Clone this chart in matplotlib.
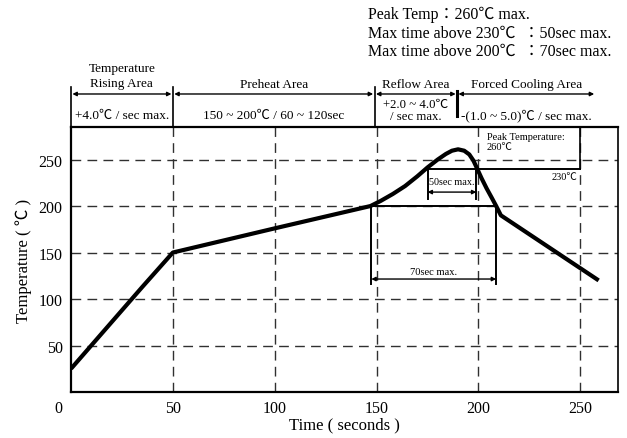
import numpy as np
import matplotlib
matplotlib.use("Agg")
from matplotlib import pyplot as plt

plt.rcParams['font.family'] = ['Liberation Serif', 'Noto Sans CJK JP', 'DejaVu Serif']

# reflow profile (time s, temp C)
profile_t = [0, 35, 50, 100, 147, 152, 158, 164, 170, 175, 180, 184, 187, 190, 193, 195.5, 197.5,
             199.2, 201.5, 204, 206.5, 208.7, 211, 259]
profile_T = [25, 113, 150, 176, 200, 205.5, 213, 221.5, 232, 241.5, 250, 256, 259.5, 261, 259.5, 255.5, 249,
             241, 230, 219, 209, 200, 190, 120]

x_ticks = [50, 100, 150, 200, 250]
y_ticks = [50, 100, 150, 200, 250]

# header zones: edges, titles, rate text
zone_edges = [0, 50, 149, 189.5, 257.5]
zone_titles = ['Temperature\nRising Area', 'Preheat Area', 'Reflow Area', 'Forced Cooling Area']
zone_rates = ['+4.0℃ / sec max.', '150 ~ 200℃ / 60 ~ 120sec', '+2.0 ~ 4.0℃\n/ sec max.', '-(1.0 ~ 5.0)℃ / sec max.']

spec_lines = ['Peak Temp：260℃ max.',
              'Max time above 230℃  ：50sec max.',
              'Max time above 200℃  ：70sec max.']

# annotation levels (drawn position) and time windows
line_230 = 240
t230 = [175, 199]
t200 = [147.4, 208.7]

fig = plt.figure(figsize=(6.27, 4.39), dpi=100)
ax = fig.add_axes([71/627, 46/439, 547/627, 265/439])
ax.set_xlim(0, 268.5)
ax.set_ylim(0, 285)

dash = (7, 4.5)
for xv in x_ticks:
    ax.axvline(xv, color='#303030', lw=1.0, dashes=dash, zorder=1)
for yv in y_ticks:
    ax.axhline(yv, color='#303030', lw=1.0, dashes=dash, zorder=1)

ax.plot(profile_t, profile_T, color='black', lw=3, solid_joinstyle='round', solid_capstyle='butt', zorder=5)

ax.set_xticks(x_ticks)
ax.set_yticks(y_ticks)
ax.tick_params(length=0, labelsize=11.5, pad=6)
for s in ax.spines.values():
    s.set_linewidth(1.6)
ax.spines['right'].set_linewidth(1.2)
ax.text(-6, -17, '0', fontsize=11.5, ha='center', va='center')
ax.set_xlabel('Time ( seconds )', fontsize=12, labelpad=0)
ax.set_ylabel('Temperature ( ℃ )', fontsize=12, labelpad=5)

# 200 / 230 annotations
ax.plot([t200[0], t200[1]], [200, 200], color='black', lw=1.4, zorder=4)
for xv in t200:
    ax.plot([xv, xv], [200, 116], color='black', lw=1.4, zorder=4)
ax.annotate('', xy=(t200[0], 121.5), xytext=(t200[1], 121.5),
            arrowprops=dict(arrowstyle='<|-|>', color='black', lw=1.0, mutation_scale=6, shrinkA=0, shrinkB=0))
ax.text(np.mean(t200), 129.5, '70sec max.', fontsize=7.6, ha='center', va='center')

ax.plot([t230[0], 250], [line_230, line_230], color='black', lw=1.4, zorder=4)
for xv in t230:
    ax.plot([xv, xv], [line_230, 208], color='black', lw=1.4, zorder=4)
ax.annotate('', xy=(t230[0], 215), xytext=(t230[1], 215),
            arrowprops=dict(arrowstyle='<|-|>', color='black', lw=1.0, mutation_scale=6, shrinkA=0, shrinkB=0))
ax.text(np.mean(t230), 226, '50sec max.', fontsize=7.3, ha='center', va='center')
ax.plot([250, 250], [285, line_230], color='black', lw=1.2, zorder=4)
ax.text(248.3, 232, '230℃', fontsize=7.5, ha='right', va='center')
ax.text(204, 280, 'Peak Temperature:\n260℃', fontsize=7.5, ha='left', va='top', linespacing=1.2)

# header band above the plot
for i, xv in enumerate(zone_edges[:-1]):
    if i == 3:
        ax.plot([xv, xv], [324, 297], color='black', lw=2.2, clip_on=False)
    else:
        ax.plot([xv, xv], [328, 285], color='black', lw=1.2, clip_on=False)
for i in range(4):
    a, b = zone_edges[i], zone_edges[i + 1]
    ax.annotate('', xy=(a, 320.5), xytext=(b, 320.5), annotation_clip=False,
                arrowprops=dict(arrowstyle='<|-|>', color='black', lw=1.0, mutation_scale=6, shrinkA=1, shrinkB=1))
    c = (a + b) / 2
    if i == 0:
        ax.text(c, 340.5, zone_titles[i], fontsize=9.5, ha='center', va='center', linespacing=1.35, clip_on=False)
    else:
        ax.text(c, 331, zone_titles[i], fontsize=9.5, ha='center', va='center', clip_on=False)
    if i == 2:
        ax.text(c, 303, zone_rates[i], fontsize=9.2, ha='center', va='center', linespacing=1.0, clip_on=False)
    else:
        ax.text(c, 298, zone_rates[i], fontsize=9.5, ha='center', va='center', clip_on=False)

for k, line in enumerate(spec_lines):
    fig.text(368/627, 1 - (15 + 18.5*k)/439, line, fontsize=11.5, ha='left', va='center')

fig.savefig('out.png', dpi=100)
